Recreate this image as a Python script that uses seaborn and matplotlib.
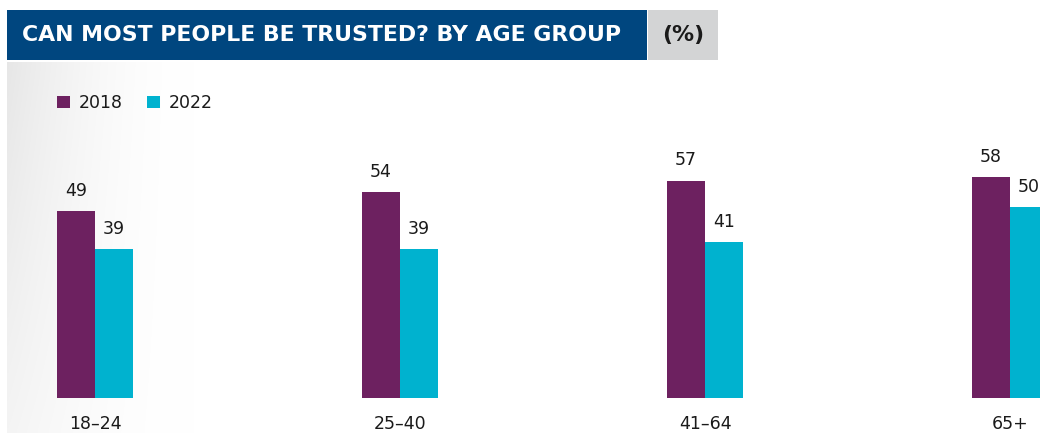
import numpy as np
import pandas as pd
import matplotlib
matplotlib.use("Agg")
import matplotlib.pyplot as plt
from matplotlib.patches import Rectangle
import seaborn as sns

categories = ["18–24", "25–40", "41–64", "65+"]
years = ["2018", "2022"]
values_2018 = [49, 54, 57, 58]
values_2022 = [39, 39, 41, 50]
title = "CAN MOST PEOPLE BE TRUSTED? BY AGE GROUP"
unit = "(%)"

colors = {"2018": "#6D2160", "2022": "#00B2CF"}

df = pd.DataFrame({
    "age": categories * 2,
    "year": ["2018"] * 4 + ["2022"] * 4,
    "value": values_2018 + values_2022,
})

sns.set_theme(style="white")
plt.rcParams["font.family"] = ["DejaVu Sans"]

W, H = 1040, 433
fig = plt.figure(figsize=(W / 100, H / 100), dpi=100)

# background gradient
bg = fig.add_axes([0, 0, 1, 1])
bg.set_xlim(0, W)
bg.set_ylim(H, 0)
bg.axis("off")
xs = np.linspace(0, 1, 400)
ys = np.linspace(0, 1, 100)
X, Y = np.meshgrid(xs, ys)
shade = np.clip(1 - X / 0.18, 0, 1) ** 1.8 * (1 - 0.55 * Y)
g = 1 - 0.095 * shade
img = np.dstack([g, g, g])
img = np.clip(img, 0, 1)
bg.imshow(img, extent=[7, W, H, 62], aspect="auto", zorder=0, interpolation="bilinear")

# title bar
bg.add_patch(Rectangle((7, 10), 640, 50, facecolor="#00467F", edgecolor="none", zorder=1))
bg.add_patch(Rectangle((648, 10), 70, 50, facecolor="#D3D4D5", edgecolor="none", zorder=1))
bg.text(22, 35, title, color="white", fontsize=15.8, fontweight="bold",
        ha="left", va="center", zorder=2)
bg.text(683, 35, unit, color="#1a1a1a", fontsize=15.8, fontweight="bold",
        ha="center", va="center", zorder=2)

# main axes
bottom_px = 398
top_px = 131
ax = fig.add_axes([7 / W, (H - bottom_px) / H, (W - 7) / W, (bottom_px - top_px) / H])
ax.patch.set_alpha(0)
sns.barplot(data=df, x="age", y="value", hue="year", palette=colors,
            width=0.249, saturation=1, ax=ax, legend=True, linewidth=0)
ax.set_ylim(0, 70)
ax.set_xlim(-0.2885, 3.098)
for c in ax.containers:
    ax.bar_label(c, fontsize=12.5, color="#1a1a1a", padding=8)
sns.despine(ax=ax, left=True, bottom=True)
ax.set_yticks([])
ax.set_xlabel("")
ax.set_ylabel("")
ax.tick_params(axis="x", length=0, labelsize=12.5, labelcolor="#1a1a1a", pad=12)

sns.move_legend(ax, loc="center left", bbox_to_anchor=(43 / (W - 7), (bottom_px - 103) / (bottom_px - top_px)),
                ncol=2, frameon=False, title=None, fontsize=12.5,
                handlelength=0.75, handleheight=0.75, handletextpad=0.5,
                columnspacing=1.4, borderaxespad=0)
for t in ax.get_legend().get_texts():
    t.set_color("#1a1a1a")

fig.savefig("out.png", dpi=100)
